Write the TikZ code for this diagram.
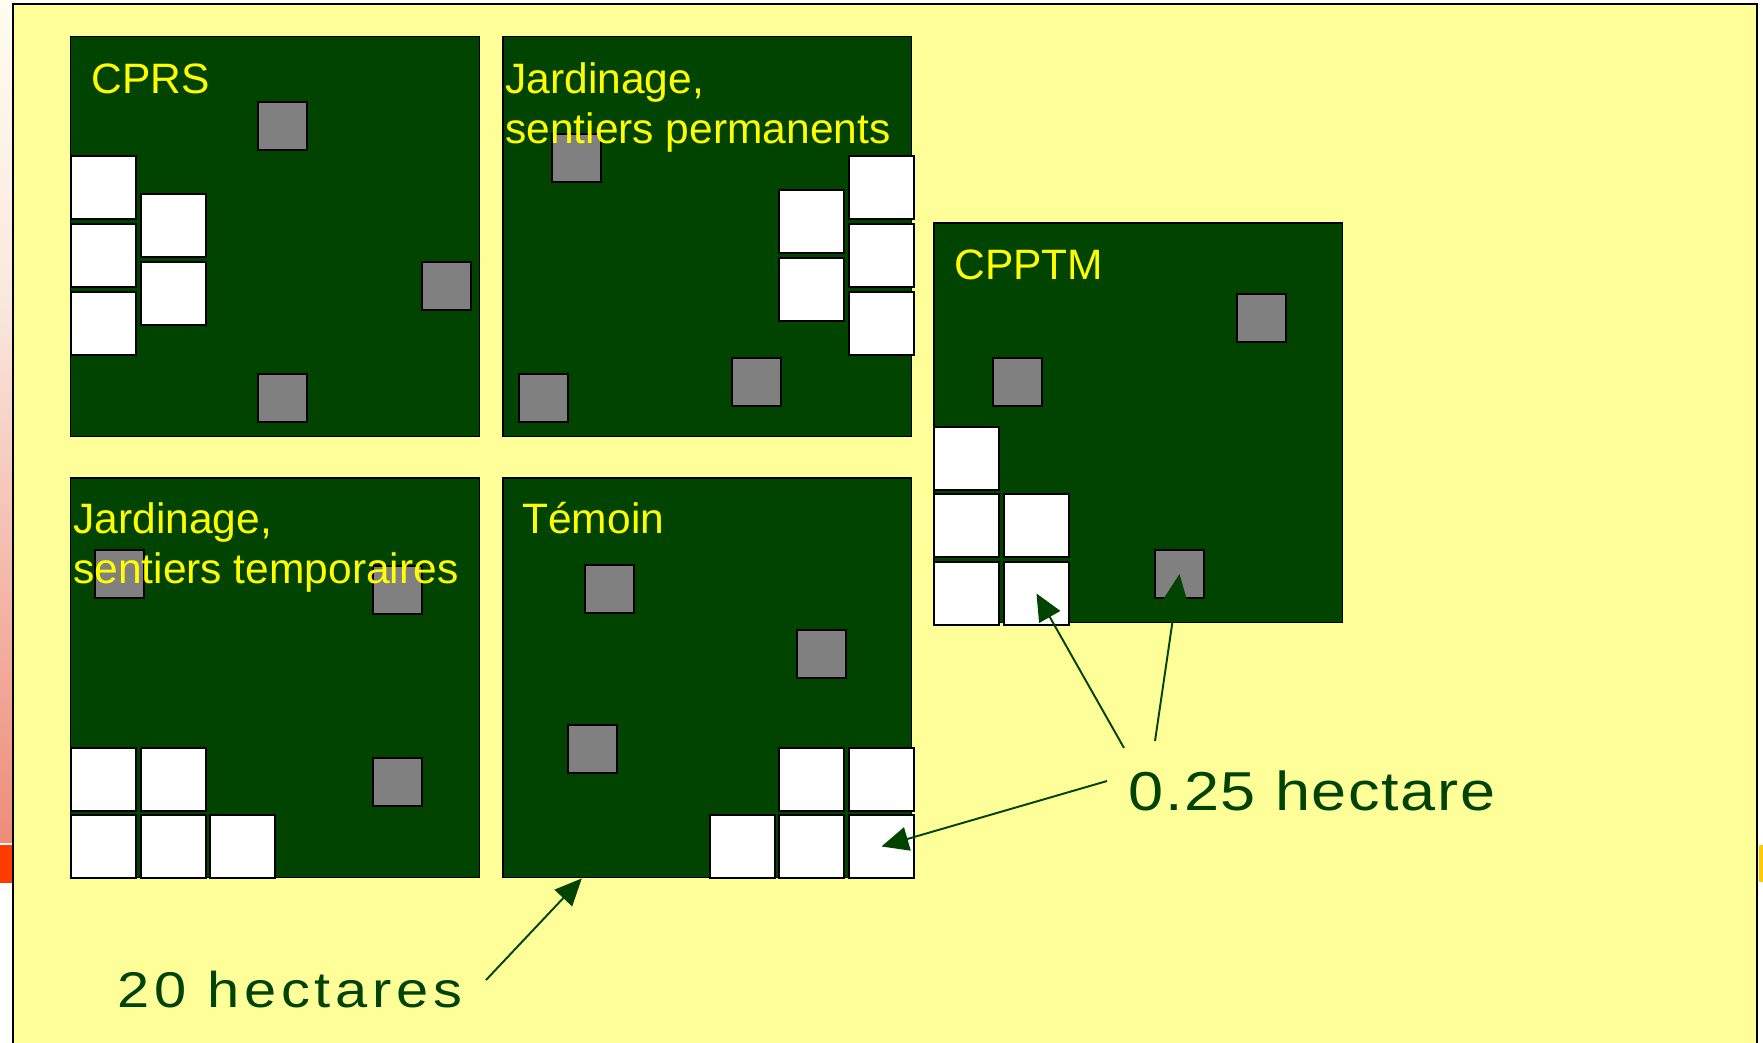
\documentclass[tikz,border=0pt]{standalone}
\usepackage{fontspec}
\setmainfont{Liberation Sans}
\newfontfamily\grandfont[FakeStretch=1.15,LetterSpace=9.5]{Liberation Sans}
\newfontfamily\moyenfont[FakeStretch=1.15,LetterSpace=3]{Liberation Sans}
\usetikzlibrary{arrows.meta}
\definecolor{foret}{RGB}{0,68,0}
\definecolor{fond}{RGB}{255,255,153}
\definecolor{jaune}{RGB}{255,255,0}
\definecolor{ivoire}{RGB}{255,252,240}
\definecolor{creme}{RGB}{250,232,222}
\definecolor{rose}{RGB}{238,165,150}
\definecolor{saumon}{RGB}{238,140,122}
\definecolor{vermillon}{RGB}{255,60,0}
\definecolor{ambre}{RGB}{255,204,0}
\tikzset{
  stand/.style={draw=black, fill=foret, line width=0.85pt, minimum width=8.18cm, minimum height=8cm, inner sep=0pt, anchor=north west},
  plot/.style={draw=black, fill=white, line width=1.1pt, minimum width=1.3cm, minimum height=1.26cm, inner sep=0pt, anchor=north west},
  sample/.style={plot, fill=gray, minimum width=0.98cm, minimum height=0.96cm},
  titre/.style={text=jaune, font=\fontsize{24.2}{28.45}\selectfont, inner sep=0pt, align=left, anchor=base west},
  legende/.style={text=foret, inner sep=0pt, anchor=base west},
  fleche/.style={draw=foret, line width=1.1pt, -{Triangle[length=0.54cm,width=0.48cm]}}
}
\begin{document}
\begin{tikzpicture}[x=0.02cm,y=-0.02cm]
  \useasboundingbox (0,0) rectangle (1763,1042);
  \fill [white] (0,0) rectangle (1763,1042);
  \shade [top color=ivoire, bottom color=creme] (0,0) rectangle (12,300);
  \shade [top color=creme, middle color=rose, bottom color=saumon] (0,300) rectangle (12,842);
  \fill [vermillon] (0,845) rectangle (12,883);
  \fill [ambre] (1759,845) rectangle (1763,882);
  \draw [line width=1.1pt, fill=fond] (13.3,1043) -- (13.3,3.7) -- (1757.3,3.7) -- (1757.3,1043);

  \foreach \x/\y/\n in {70/36/cprs, 502/36/perm, 933/222/cpptm, 70/477/temp, 502/477/temoin}
    \node [stand] (\n) at (\x,\y) {};

  \foreach \x/\y/\n in {257/101/cprs-g1, 421/261/cprs-g2, 257/373/cprs-g3,
      551/133/perm-g1, 518/373/perm-g2, 731/357/perm-g3,
      1236/293/cpptm-g1, 992/357/cpptm-g2, 1154/549/cpptm-g3,
      94/549/temp-g1, 372/565/temp-g2, 372/757/temp-g3,
      584/564/temoin-g1, 796/629/temoin-g2, 567/724/temoin-g3}
    \node [sample] (\n) at (\x,\y) {};

  \foreach \x/\y/\n in {70/155/cprs-w1, 70/223/cprs-w2, 70/291/cprs-w3, 140/193/cprs-w4, 140/261/cprs-w5,
      778/189/perm-w1, 778/257/perm-w2, 848/155/perm-w3, 848/223/perm-w4, 848/291/perm-w5,
      933/426/cpptm-w1, 933/493/cpptm-w2, 933/561/cpptm-w3, 1003/493/cpptm-w4, 1003/561/cpptm-w5,
      70/747/temp-w1, 140/747/temp-w2, 70/814/temp-w3, 140/814/temp-w4, 209/814/temp-w5,
      778/747/temoin-w1, 848/747/temoin-w2, 709/814/temoin-w3, 778/814/temoin-w4, 848/814/temoin-w5}
    \node [plot] (\n) at (\x,\y) {};

  \node [titre] (l-cprs) at (91,93) {CPRS};
  \node [titre, anchor=north west] (l-perm) at (505,62) {Jardinage,\\sentiers permanents};
  \node [titre] (l-cpptm) at (954,279) {CPPTM};
  \node [titre, anchor=north west] (l-temp) at (73,502) {Jardinage,\\sentiers temporaires};
  \node [titre] (l-temoin) at (522,533) {Témoin};

  \node [legende, font=\grandfont\fontsize{28.6}{34}\selectfont] (ha20) at (117,1007) {20 hectares};
  \node [legende, font=\moyenfont\fontsize{31.2}{37}\selectfont] (ha025) at (1128,810) {0.25 hectare};

  \coordinate (a20) at (486,980);
  \coordinate (a1) at (1107,781);
  \coordinate (a2) at (1124,748);
  \coordinate (a3) at (1155,741);
  \draw [fleche] (a20) -- (temoin.238);
  \draw [fleche] (a1) -- (temoin-w5.center);
  \draw [fleche] (a2) -- (cpptm-w5.center);
  \draw [fleche] (a3) -- (cpptm-g3.center);
\end{tikzpicture}
\end{document}
